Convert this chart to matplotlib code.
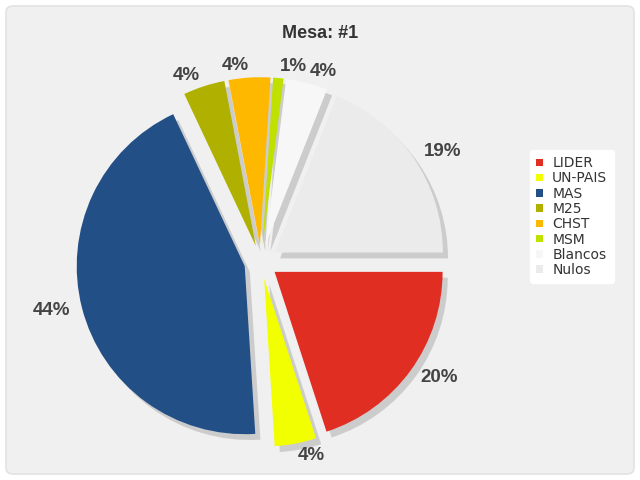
import matplotlib
matplotlib.use("Agg")
import matplotlib.pyplot as plt
from matplotlib.patches import FancyBboxPatch

plt.rcParams["font.family"] = ["Liberation Sans", "DejaVu Sans"]

parties = ["LIDER", "UN-PAIS", "MAS", "M25", "CHST", "MSM", "Blancos", "Nulos"]
shares = [20, 4, 44, 4, 4, 1, 4, 19]
colors = ["#e02e22", "#f2ff00", "#234f87", "#b0b000", "#ffb800",
          "#c0e000", "#f7f7f7", "#ebebeb"]

fig = plt.figure(figsize=(6.4, 4.8), dpi=100)
fig.patch.set_facecolor("white")
fig.patches.append(FancyBboxPatch((6 / 640, 6 / 480), 628 / 640, 468 / 480,
                                  boxstyle="round,pad=0,rounding_size=0.012",
                                  transform=fig.transFigure, facecolor="#f0f0f0",
                                  edgecolor="#e2e2e2", linewidth=1.2, zorder=-10))

ax = fig.add_axes([0, 0, 1, 1])
ax.set_facecolor("none")

R = 168  # pie radius in pixels
cx, cy = 261, 262  # pie centre in pixels (from top-left)

wedges, _, pcts = ax.pie(
    shares, colors=colors, startangle=0, counterclock=False,
    explode=[0.1] * len(shares), autopct="%.0f%%", pctdistance=1.07,
    shadow={"ox": 0.022, "oy": -0.025, "facecolor": "#aaaaaa", "edgecolor": "none"},
    wedgeprops={"linewidth": 0},
    textprops={"fontsize": 13.5, "fontweight": "bold", "color": "#444444"},
)
# labels sit beside their anchor point, like the original chart lib
for w, t in zip(wedges, pcts):
    t.set_ha("left" if t.get_position()[0] > w.center[0] else "right")
    t.set_va("center")

ax.set_aspect("equal")
ax.set_xlim(-cx / R, (640 - cx) / R)
ax.set_ylim(-(480 - cy) / R, cy / R)
ax.axis("off")

fig.text(0.5, 1 - 33 / 480, "Mesa: #1", ha="center", va="center",
         fontsize=13, fontweight="bold", color="#333333")

leg = ax.legend(wedges, parties, loc="upper left",
                bbox_to_anchor=(530 / 640, 1 - 150 / 480),
                bbox_transform=fig.transFigure, frameon=True, fancybox=True,
                prop={"family": "DejaVu Sans", "size": 10},
                handlelength=0.45, handleheight=0.45, handletextpad=0.7,
                labelspacing=0.09, borderpad=0.45, borderaxespad=0)
leg.get_frame().set_facecolor("white")
leg.get_frame().set_edgecolor("white")
leg.get_frame().set_alpha(1)
for t in leg.get_texts():
    t.set_color("#333333")

fig.savefig("out.png", dpi=100)
